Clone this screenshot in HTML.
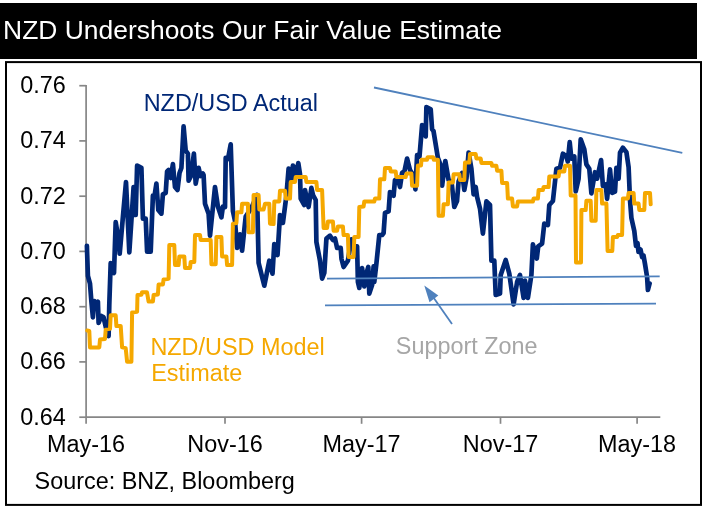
<!DOCTYPE html>
<html><head><meta charset="utf-8"><title>NZD Undershoots Our Fair Value Estimate</title>
<style>
html,body{margin:0;padding:0;background:#fff;}
body{width:703px;height:511px;overflow:hidden;font-family:"Liberation Sans",sans-serif;}
svg text{font-family:"Liberation Sans",sans-serif;}
svg{will-change:transform;}
</style></head><body>
<svg width="703" height="511" viewBox="0 0 703 511" style="display:block">
<rect x="0" y="0" width="703" height="511" fill="#fff"/>
<rect x="0" y="3" width="697" height="56" fill="#000"/>
<text transform="translate(3.10 38.70) scale(1.0050 1)" font-size="26.30" text-anchor="start" fill="#fff">NZD Undershoots Our Fair Value Estimate</text>
<rect x="6" y="62.1" width="695" height="442.8" fill="#fff" stroke="#000" stroke-width="2"/>
<g stroke="#868686" stroke-width="1.7" fill="none">
<path d="M86.1 84.9 V417.2 M86.1 417.2 H660.3"/>
<path d="M79.3 85.7 H86.1"/>
<path d="M79.3 140.9 H86.1"/>
<path d="M79.3 196.2 H86.1"/>
<path d="M79.3 251.4 H86.1"/>
<path d="M79.3 306.7 H86.1"/>
<path d="M79.3 361.9 H86.1"/>
<path d="M79.3 417.2 H86.1"/>
<path d="M86.1 417.2 V423.8"/>
<path d="M225.0 417.2 V423.8"/>
<path d="M361.6 417.2 V423.8"/>
<path d="M500.5 417.2 V423.8"/>
<path d="M637.1 417.2 V423.8"/>
</g>
<text transform="translate(65.80 93.10) scale(1.0090 1)" font-size="23.20" text-anchor="end" fill="#000">0.76</text>
<text transform="translate(65.80 148.35) scale(1.0090 1)" font-size="23.20" text-anchor="end" fill="#000">0.74</text>
<text transform="translate(65.80 203.60) scale(1.0090 1)" font-size="23.20" text-anchor="end" fill="#000">0.72</text>
<text transform="translate(65.80 258.85) scale(1.0090 1)" font-size="23.20" text-anchor="end" fill="#000">0.70</text>
<text transform="translate(65.80 314.10) scale(1.0090 1)" font-size="23.20" text-anchor="end" fill="#000">0.68</text>
<text transform="translate(65.80 369.35) scale(1.0090 1)" font-size="23.20" text-anchor="end" fill="#000">0.66</text>
<text transform="translate(65.80 424.60) scale(1.0090 1)" font-size="23.20" text-anchor="end" fill="#000">0.64</text>
<text transform="translate(86.10 452.10) scale(1.0090 1)" font-size="23.20" text-anchor="middle" fill="#000">May-16</text>
<text transform="translate(225.00 452.10) scale(1.0090 1)" font-size="23.20" text-anchor="middle" fill="#000">Nov-16</text>
<text transform="translate(361.60 452.10) scale(1.0090 1)" font-size="23.20" text-anchor="middle" fill="#000">May-17</text>
<text transform="translate(500.50 452.10) scale(1.0090 1)" font-size="23.20" text-anchor="middle" fill="#000">Nov-17</text>
<text transform="translate(637.10 452.10) scale(1.0090 1)" font-size="23.20" text-anchor="middle" fill="#000">May-18</text>
<text transform="translate(34.60 488.50) scale(1.0090 1)" font-size="23.20" text-anchor="start" fill="#000">Source: BNZ, Bloomberg</text>
<path d="M86.9 245.9 L87.9 275.9 L90.0 283.7 L91.4 301.6 L92.9 317.4 L94.3 301.0 L96.0 304.0 L97.9 301.7 L98.6 323.0 L101.4 316.0 L103.5 317.0 L105.7 326.7 L108.6 336.0 L109.3 304.4 L110.7 263.0 L114.0 273.0 L115.7 222.0 L118.6 240.0 L119.7 253.7 L122.9 217.0 L126.0 182.0 L129.3 252.3 L133.6 187.0 L135.7 215.0 L137.1 165.7 L141.4 167.9 L142.9 218.6 L145.7 218.6 L147.1 251.6 L150.7 251.6 L152.9 195.7 L154.5 196.0 L156.4 183.6 L158.3 210.0 L161.4 213.6 L162.9 194.3 L165.7 192.9 L167.1 171.4 L168.6 170.0 L170.8 178.0 L172.9 164.0 L175.0 187.0 L177.5 190.0 L179.5 173.0 L181.4 168.0 L183.6 126.4 L185.7 150.7 L187.9 153.6 L188.6 180.7 L191.0 176.0 L193.9 153.6 L195.7 183.6 L198.6 167.9 L200.5 176.0 L202.9 173.6 L203.6 175.0 L205.0 203.7 L208.6 213.7 L210.0 235.7 L215.0 187.0 L217.9 206.6 L221.4 217.3 L222.9 206.6 L225.0 207.0 L225.7 157.9 L228.0 159.0 L230.7 144.3 L232.9 210.9 L235.0 220.9 L237.1 247.9 L240.0 234.3 L242.1 250.7 L245.7 216.6 L251.4 208.0 L257.1 195.0 L258.6 262.9 L264.3 285.7 L269.3 260.7 L272.5 273.6 L274.3 244.0 L277.5 255.0 L280.0 215.0 L282.9 222.9 L286.4 195.7 L288.6 168.6 L289.6 180.0 L290.7 172.0 L291.8 181.0 L292.9 165.7 L294.0 177.0 L295.0 167.0 L296.4 175.0 L298.3 163.0 L300.0 174.0 L300.7 198.6 L304.3 205.0 L305.0 190.0 L308.6 207.0 L311.4 187.9 L313.0 195.0 L315.7 200.0 L316.4 242.0 L320.0 260.7 L322.1 278.6 L324.3 273.0 L326.4 238.6 L330.0 235.7 L332.9 240.0 L335.0 238.6 L337.1 247.9 L340.7 247.9 L341.5 259.0 L343.6 267.0 L347.9 260.7 L351.4 239.3 L354.0 246.0 L357.1 246.4 L357.9 282.0 L359.3 287.9 L362.1 268.0 L364.3 286.4 L366.0 275.0 L368.3 267.0 L369.3 293.6 L372.1 285.0 L373.6 266.4 L374.3 282.0 L376.4 263.6 L379.3 235.0 L382.1 235.0 L383.6 233.0 L385.0 212.9 L388.6 211.4 L390.0 192.0 L393.6 195.7 L395.0 180.0 L397.9 178.6 L400.0 187.0 L402.1 172.9 L404.5 171.0 L407.1 158.6 L410.0 170.0 L413.6 175.7 L415.4 189.3 L417.1 155.0 L419.5 156.5 L422.1 125.0 L425.7 136.4 L426.4 107.0 L430.7 109.3 L432.1 129.3 L433.5 131.0 L437.9 157.9 L441.0 166.0 L442.1 185.7 L445.3 161.0 L448.6 180.0 L451.5 181.5 L454.3 207.0 L457.0 201.0 L458.6 181.4 L462.1 172.9 L464.3 190.0 L466.5 178.0 L468.6 152.5 L471.4 168.6 L473.6 194.3 L475.7 187.0 L477.1 197.0 L480.0 208.6 L482.9 233.6 L486.4 201.4 L490.0 205.0 L491.4 260.7 L494.3 260.7 L495.7 295.0 L500.0 293.6 L500.7 275.0 L505.7 260.0 L509.3 273.6 L513.6 304.3 L517.1 282.0 L520.0 275.0 L523.6 297.9 L525.0 280.7 L527.9 297.9 L531.4 275.0 L532.9 244.3 L536.8 258.6 L538.2 246.4 L542.1 243.6 L544.3 223.6 L547.9 225.0 L549.3 205.0 L552.9 201.0 L556.4 168.7 L560.0 167.8 L562.9 153.7 L566.4 156.5 L567.8 161.5 L569.7 142.2 L571.4 158.7 L574.3 156.5 L575.7 191.5 L578.6 178.7 L580.7 139.4 L584.3 149.4 L586.4 164.4 L589.3 168.7 L591.4 193.3 L595.0 172.2 L597.1 178.7 L601.1 160.1 L602.9 185.8 L605.7 184.4 L607.1 198.8 L610.0 169.4 L612.1 192.8 L615.0 191.5 L616.4 167.8 L618.6 178.7 L620.0 152.8 L622.9 147.8 L626.4 152.2 L628.6 167.2 L630.0 200.1 L631.4 217.9 L634.3 231.0 L636.0 246.0 L637.5 243.0 L638.5 252.0 L640.5 249.5 L642.1 257.0 L643.5 255.5 L645.0 264.0 L647.1 277.0 L647.9 290.0 L649.6 283.5" fill="none" stroke="#002776" stroke-width="4.7" stroke-linejoin="round" stroke-linecap="round"/>
<path d="M87.2 330.5 L89.3 331.0 L90.0 347.4 L99.3 347.4 L100.0 339.6 L105.0 338.9 L105.7 329.6 L110.0 328.9 L110.7 315.3 L115.7 315.3 L116.4 326.0 L120.7 326.0 L122.1 347.4 L125.7 348.1 L127.1 361.7 L131.4 361.7 L132.1 312.4 L137.1 311.7 L137.5 295.0 L141.4 294.8 L142.0 292.3 L147.0 292.3 L148.6 301.6 L152.9 301.6 L153.6 295.0 L157.9 294.4 L158.6 284.4 L162.9 284.4 L163.6 279.4 L168.6 278.7 L169.3 245.0 L174.3 245.0 L175.0 265.0 L178.6 265.0 L179.3 256.4 L184.3 256.4 L185.0 267.9 L190.0 267.9 L190.7 262.0 L194.3 262.0 L195.0 235.0 L200.0 235.0 L200.7 240.0 L210.7 240.0 L211.4 264.3 L215.7 264.3 L216.4 237.0 L221.4 237.0 L222.1 256.4 L226.4 256.4 L227.1 265.0 L232.1 265.0 L232.9 223.7 L236.4 223.0 L237.1 212.3 L241.4 212.3 L242.1 203.7 L247.9 203.7 L248.6 232.3 L252.9 232.3 L253.6 195.0 L258.6 195.0 L259.3 209.4 L263.6 209.4 L265.0 203.7 L269.3 203.7 L270.0 223.7 L273.6 224.0 L274.3 201.6 L279.3 201.4 L280.0 190.7 L285.0 190.7 L285.7 198.6 L290.0 198.6 L290.7 182.0 L295.0 182.0 L295.7 177.0 L305.7 177.0 L306.4 182.0 L316.4 182.0 L317.1 190.0 L322.1 190.0 L323.6 227.9 L327.1 227.9 L327.9 221.4 L332.9 221.4 L333.6 230.7 L337.1 230.7 L337.9 226.4 L342.9 226.4 L343.6 235.0 L347.9 235.0 L348.6 257.0 L353.6 257.0 L354.3 237.0 L358.6 237.0 L359.3 207.0 L363.6 206.4 L364.3 201.4 L374.3 201.4 L375.0 198.6 L379.3 198.6 L380.0 179.3 L384.3 179.3 L385.0 167.9 L390.0 167.9 L390.7 171.4 L395.7 171.4 L396.4 177.0 L405.7 177.0 L406.4 173.6 L411.4 173.6 L412.1 185.7 L417.1 185.7 L417.9 165.5 L421.0 165.5 L421.5 159.8 L427.0 159.8 L427.6 157.2 L433.2 157.2 L433.8 159.8 L437.9 159.8 L438.6 215.7 L442.9 215.7 L443.6 204.3 L447.9 204.3 L448.6 182.5 L452.9 182.5 L453.6 174.3 L459.3 174.3 L460.0 180.0 L464.3 180.0 L465.0 162.5 L469.3 162.5 L470.0 154.0 L475.7 154.0 L476.4 158.5 L480.7 158.5 L481.4 162.9 L491.4 162.9 L492.1 165.7 L496.4 165.7 L497.1 170.7 L501.4 170.7 L502.1 182.9 L507.1 182.9 L507.9 198.6 L512.1 198.6 L512.9 206.4 L517.1 206.4 L517.9 201.4 L532.9 201.4 L533.6 198.6 L537.9 198.6 L538.6 190.0 L542.9 190.0 L543.6 187.0 L548.6 187.0 L549.3 176.4 L558.6 176.4 L559.3 171.4 L564.3 171.4 L565.0 165.7 L570.0 165.7 L570.7 195.5 L575.5 195.5 L576.0 262.5 L581.0 262.5 L581.4 210.0 L585.7 210.0 L586.4 200.7 L590.7 200.7 L591.4 220.7 L595.7 220.7 L596.4 190.0 L601.4 190.0 L602.1 203.6 L606.4 203.6 L607.6 251.0 L612.3 251.0 L612.9 237.0 L617.1 237.0 L617.9 235.0 L622.1 235.0 L622.9 198.6 L627.9 198.6 L628.6 192.9 L633.6 192.9 L634.3 203.6 L638.6 203.6 L639.3 210.0 L644.3 210.0 L645.0 192.9 L650.0 192.9 L650.7 204.3" fill="none" stroke="#F5A800" stroke-width="4.0" stroke-linejoin="round" stroke-linecap="round"/>
<g stroke="#4F81BD" stroke-width="1.8" fill="none">
<path d="M374 87.5 L682.3 152.8"/>
<path d="M327 278.7 L659.7 276.4"/>
<path d="M325 305.3 L656 303.7"/>
<path d="M452 323.9 L431 294"/>
</g>
<path d="M424.3 285.6 L438.3 295.4 L429.5 302.3 Z" fill="#4F81BD"/>
<text transform="translate(143.70 110.80) scale(1.0090 1)" font-size="23.20" text-anchor="start" fill="#002776">NZD/USD Actual</text>
<text transform="translate(150.40 354.50) scale(1.0090 1)" font-size="23.20" text-anchor="start" fill="#F5A800">NZD/USD Model</text>
<text transform="translate(151.20 380.70) scale(1.0090 1)" font-size="23.20" text-anchor="start" fill="#F5A800">Estimate</text>
<text transform="translate(395.80 353.60) scale(1.0090 1)" font-size="23.20" text-anchor="start" fill="#A6A6A6">Support Zone</text>
</svg>
</body></html>
